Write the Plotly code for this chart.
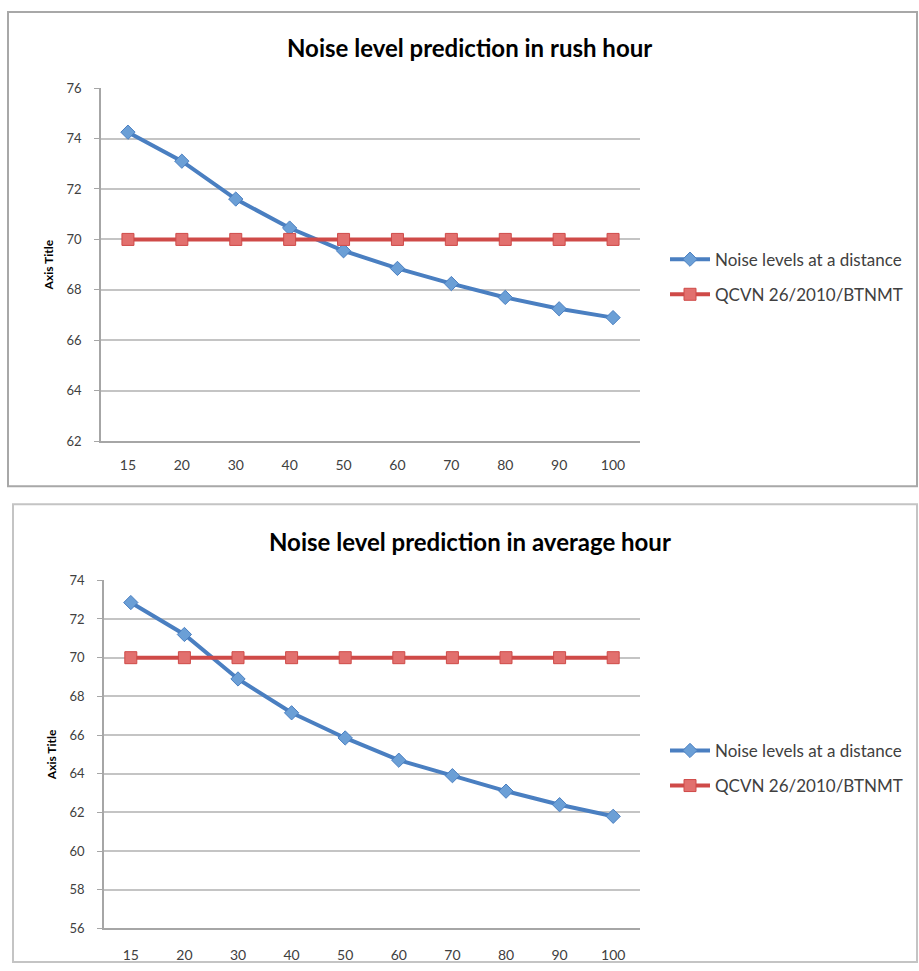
import plotly.graph_objects as go
from plotly.subplots import make_subplots

distances = ["15", "20", "30", "40", "50", "60", "70", "80", "90", "100"]
rush_noise = [74.25, 73.1, 71.6, 70.45, 69.55, 68.85, 68.25, 67.7, 67.25, 66.9]
rush_standard = [70, 70, 70, 70, 70, 70, 70, 70, 70, 70]
avg_noise = [72.85, 71.2, 68.9, 67.15, 65.85, 64.7, 63.9, 63.1, 62.4, 61.8]
avg_standard = [70, 70, 70, 70, 70, 70, 70, 70, 70, 70]

title_top = "Noise level prediction in rush hour"
title_bottom = "Noise level prediction in average hour"
name_noise = "Noise levels at a distance"
name_std = "QCVN 26/2010/BTNMT"

W, H = 919, 971
FONT = "Lato"
BLUE = "#4a7fc1"
BLUE_M = "#6b9fd6"
RED = "#cf4a48"
RED_M = "#e2706e"


def px(x):
    return x / W


def py(y):
    f = (y - 8) / 0.983
    f = min(max(f, 0), H - 1)
    return 1 - f / H


fig = make_subplots(rows=2, cols=1)

def add_pair(row, noise, std, legend, group):
    fig.add_trace(go.Scatter(
        x=distances, y=noise, name=name_noise, mode="lines+markers",
        line=dict(color=BLUE, width=4),
        marker=dict(symbol="diamond", size=11, color=BLUE_M, line=dict(color=BLUE, width=1)),
        legend=legend, legendgroup=group + "a",
    ), row=row, col=1)
    fig.add_trace(go.Scatter(
        x=distances, y=std, name=name_std, mode="lines+markers",
        line=dict(color=RED, width=4),
        marker=dict(symbol="square", size=12, color=RED_M, line=dict(color=RED, width=1)),
        legend=legend, legendgroup=group + "b",
    ), row=row, col=1)

add_pair(1, rush_noise, rush_standard, "legend", "t")
add_pair(2, avg_noise, avg_standard, "legend2", "b")

axis_common = dict(
    showline=True, linecolor="#a6a6a6", linewidth=1.5,
    zeroline=False,
)

fig.update_xaxes(**axis_common, showgrid=False, ticks="",
                 tickfont=dict(family=FONT, size=14, color="#404040"),
                 range=[-0.5, 9.5], type="category")
fig.update_yaxes(**axis_common, showgrid=True, gridcolor="#c4c4c4", gridwidth=2,
                 ticks="outside", ticklen=5, tickcolor="#a6a6a6", ticklabelstandoff=10,
                 tickfont=dict(family=FONT, size=13, color="#404040"),
                 dtick=2,
                 title=dict(text="<b>Axis Title</b>", font=dict(family=FONT, size=12, color="#000000"),
                            standoff=10))

fig.update_layout(
    xaxis=dict(domain=[px(101), px(640)], anchor="y", ticklabelstandoff=10),
    yaxis=dict(domain=[py(441), py(88)], range=[62, 76], anchor="x"),
    xaxis2=dict(domain=[px(104), px(640)], anchor="y2", ticklabelstandoff=13),
    yaxis2=dict(domain=[py(928), py(580)], range=[56, 74], anchor="x2"),
)

legend_common = dict(
    xanchor="left", yanchor="middle", bgcolor="rgba(0,0,0,0)",
    font=dict(family=FONT, size=17, color="#404040"),
    tracegroupgap=10, itemwidth=40,
)
fig.update_layout(
    legend=dict(**legend_common, x=px(665), y=py(277)),
    legend2=dict(**legend_common, x=px(665), y=py(768)),
)

fig.add_annotation(text="<b>" + title_top + "</b>", x=px(470), y=py(47), xref="paper", yref="paper",
                   xanchor="center", yanchor="middle",
                   showarrow=False, font=dict(family=FONT, size=24, color="#000000"))
fig.add_annotation(text="<b>" + title_bottom + "</b>", x=px(470), y=py(541), xref="paper", yref="paper",
                   xanchor="center", yanchor="middle",
                   showarrow=False, font=dict(family=FONT, size=24, color="#000000"))

fig.add_shape(type="rect", xref="paper", yref="paper", x0=px(8), x1=px(917), y0=py(486), y1=py(12),
              line=dict(color="#a8a8a8", width=2))
fig.add_shape(type="rect", xref="paper", yref="paper", x0=px(13), x1=px(917), y0=py(975), y1=py(504),
              line=dict(color="#c4c4c4", width=2))

fig.update_layout(
    width=W, height=H, margin=dict(l=0, r=0, t=0, b=0),
    paper_bgcolor="white", plot_bgcolor="white", showlegend=True,
)

fig.write_html(
    "out.html",
    config={"displayModeBar": False},
    post_script=(
        "document.body.style.margin='0';"
    ),
)
